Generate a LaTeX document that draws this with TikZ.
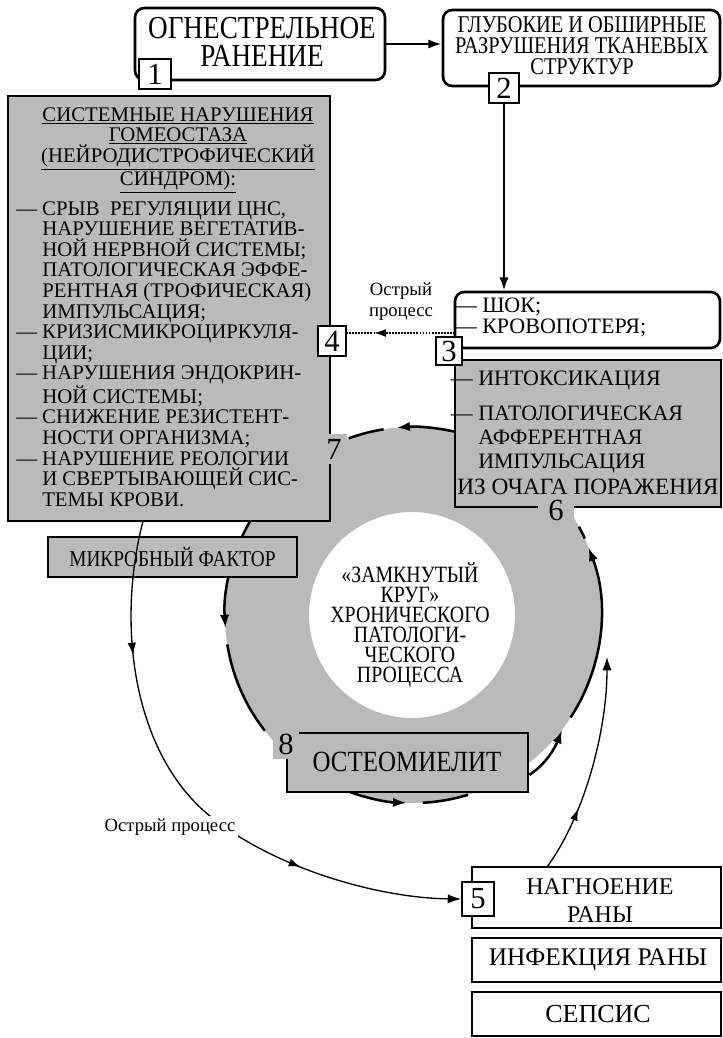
\documentclass[tikz,border=0pt]{standalone}
\usepackage{fontspec}
\setmainfont{Liberation Serif}
\newfontfamily\cond[FakeStretch=0.85]{Liberation Serif}
\usetikzlibrary{fit,arrows.meta,decorations.markings,calc}
\definecolor{shadegray}{gray}{0.73}
\newcommand\fs[2]{\fontsize{#1}{#2}\selectfont}
\tikzset{
  box/.style={draw, line width=2pt, inner sep=0pt},
  rbox/.style={box, rounded corners=7pt},
  gbox/.style={box, fill=shadegray},
  num/.style={draw, line width=1.4pt, fill=white, inner sep=0pt, font=\fs{23}{23}},
  gnum/.style={fill=shadegray, inner sep=0pt, font=\fs{23}{23}},
  txt/.style={inner sep=0pt, align=center},
  ltxt/.style={inner sep=0pt, align=left},
  tip/.style={-{Latex[length=10pt,width=7pt]}},
  ring/.style={line width=1.9pt},
  thinarc/.style={line width=1pt},
  midtip/.style={postaction={decorate}, decoration={markings, mark=at position #1 with {\arrow{Latex[length=9pt,width=6pt]}}}}
}
\begin{document}
\begin{tikzpicture}[x=0.75pt,y=-0.75pt]
\useasboundingbox (0,0) rectangle (723,1038);
% ring
\coordinate (C) at (413,615);
\coordinate (Ci) at (412,615);
\fill[shadegray, even odd rule] (C) circle[radius=188] (Ci) circle[radius=103];

% ring connectors
\coordinate (T0) at ($(C)+(-77:188)$);
\coordinate (T1) at ($(C)+(-99:188)$);
\draw[ring, tip] (T0) arc[start angle=-77, end angle=-95, radius=188];
\draw[ring] (T1) arc[start angle=-99, end angle=-110, radius=188];

\coordinate (L0) at ($(C)+(210:188)$);
\coordinate (L1) at ($(C)+(171:188)$);
\draw[ring, tip] (L0) arc[start angle=210, end angle=176, radius=188];
\draw[ring] (L1) arc[start angle=171, end angle=142, radius=188];

\coordinate (B0) at ($(C)+(109.6:188)$);
\coordinate (B1) at ($(C)+(87:188)$);
\draw[ring, tip] (B0) arc[start angle=109.6, end angle=92, radius=188];
\draw[ring] (B1) arc[start angle=87, end angle=73, radius=188];

\coordinate (R0) at ($(C)+(33:188)$);
\coordinate (R1) at ($(C)+(-24:188)$);
\draw[ring, tip] (R0) arc[start angle=33, end angle=-21, radius=188];
\draw[ring] (R1) arc[start angle=-24, end angle=-28, radius=188];

% boxes
\node[rbox, fit={(135,8)(385,80)}] (b1) {};
\node[rbox, fit={(443,10)(720,86)}] (b2) {};
\node[rbox, fit={(455,292)(720,348)}] (b3) {};
\node[gbox, fit={(455,360)(721,507)}] (b6) {};
\node[gbox, fit={(8,96)(330,521)}] (b4) {};
\node[gbox, fit={(48,537)(297,577)}] (mic) {};
\node[gbox, fit={(287,733)(528,792)}] (b8) {};
\node[box, fit={(472,867)(721,928)}] (b5) {};
\node[box, fit={(472,938)(721,982)}] (bi) {};
\node[box, fit={(472,992)(721,1036)}] (bs) {};

% osteomyelitis exit arrow
\coordinate (O0) at ($(b8.south east)!0.3!(b8.north east)$);
\coordinate (O1) at (562,730);
\draw[ring, tip] (O0) .. controls (545,765) and (555,748) .. (O1);

% number labels
\node[num, minimum width=24pt, minimum height=22.5pt] (n1) at (155,74) {1};
\node[num, minimum width=22.5pt, minimum height=22.5pt] (n2) at (504,88) {2};
\node[num, minimum width=19pt, minimum height=21pt] (n3) at (449,351) {3};
\node[num, minimum width=21pt, minimum height=23pt] (n4) at (332,341) {4};
\node[num, minimum width=24pt, minimum height=25.5pt] (n5) at (478,899) {5};
\node[gnum, minimum width=27pt, minimum height=19pt] (n6) at (556,510) {6};
\node[gnum, minimum width=20pt, minimum height=22pt] (n7) at (334,449) {7};
\node[gnum, minimum width=20pt, minimum height=22pt] (n8) at (286,744) {8};

% main connectors
\draw[ring, tip] (b1.east) -- (b1.east -| b2.west);
\draw[ring, tip] (n2.south) -- (n2.south |- b3.north);
\coordinate (D0) at (455,333);
\draw[line width=1.3pt, densely dotted, midtip=0.75] (D0) -- (D0 -| n4.east);

% thin arcs
\coordinate (A0) at (143,521);
\coordinate (A1) at (215,820);
\draw[thinarc, tip, midtip=0.23, postaction={decorate, decoration={markings, mark=at position 0.72 with {\arrow{Latex[length=9pt,width=6pt]}}}}]
  (A0) .. controls (115,630) and (135,760) .. (A1) .. controls (280,870) and (380,898) .. (n5.west);
\coordinate (S0) at (547,867);
\coordinate (S1) at (607,657);
\draw[thinarc, tip, midtip=0.3] (S0) .. controls (585,815) and (607,730) .. (S1);

% texts
\node[txt, font=\cond\fs{24}{21}] (t1) at (262,42) {ОГНЕСТРЕЛЬНОЕ\\РАНЕНИЕ};
\node[txt, font=\cond\fs{18}{15.75}] (t2) at (582,46) {ГЛУБОКИЕ И ОБШИРНЫЕ\\РАЗРУШЕНИЯ ТКАНЕВЫХ\\СТРУКТУР};
\node[ltxt, font=\fs{16.5}{15.75}, anchor=north west] (t3) at (482,298) {\llap{— }ШОК;\\\llap{— }КРОВОПОТЕРЯ;};
\node[ltxt, font=\fs{16.5}{18}, anchor=north west] (t6a) at (478,371) {\llap{— }ИНТОКСИКАЦИЯ};
\node[ltxt, font=\fs{16.5}{18}, anchor=north west] (t6b) at (478,406) {\llap{— }ПАТОЛОГИЧЕСКАЯ\\АФФЕРЕНТНАЯ\\ИМПУЛЬСАЦИЯ};
\node[ltxt, font=\fs{17.5}{18}, anchor=base west] (t6c) at (457,494) {ИЗ ОЧАГА ПОРАЖЕНИЯ};
\node[txt, font=\fs{15.6}{15}, anchor=north] (t4a) at (178,107) {\underline{СИСТЕМНЫЕ НАРУШЕНИЯ}\\\underline{ГОМЕОСТАЗА}\\\underline{(НЕЙРОДИСТРОФИЧЕСКИЙ}\\\underline{СИНДРОМ):}};
\node[ltxt, font=\fs{15.6}{15.45}, anchor=north west] (t4b) at (42,201) {\llap{— }СРЫВ\ \ РЕГУЛЯЦИИ ЦНС,\\НАРУШЕНИЕ ВЕГЕТАТИВ-\\НОЙ НЕРВНОЙ СИСТЕМЫ;\\ПАТОЛОГИЧЕСКАЯ ЭФФЕ-\\РЕНТНАЯ (ТРОФИЧЕСКАЯ)\\ИМПУЛЬСАЦИЯ;\\\llap{— }КРИЗИСМИКРОЦИРКУЛЯ-\\ЦИИ;\\\llap{— }НАРУШЕНИЯ ЭНДОКРИН-\\НОЙ СИСТЕМЫ;\\\llap{— }СНИЖЕНИЕ РЕЗИСТЕНТ-\\НОСТИ ОРГАНИЗМА;\\\llap{— }НАРУШЕНИЕ РЕОЛОГИИ\\И СВЕРТЫВАЮЩЕЙ СИС-\\ТЕМЫ КРОВИ.};
\node[txt, font=\fs{14}{15.75}] (q1) at (401,302) {Острый\\процесс};
\node[txt, font=\fs{14}{14}, fill=white, inner sep=2pt] (q2) at (170,827) {Острый процесс};
\node[txt, font=\cond\fs{17.5}{15}] (tc) at (410,625) {«ЗАМКНУТЫЙ\\КРУГ»\\ХРОНИЧЕСКОГО\\ПАТОЛОГИ-\\ЧЕСКОГО\\ПРОЦЕССА};
\node[txt, font=\cond\fs{17}{17}] (tm) at (mic.center) {МИКРОБНЫЙ ФАКТОР};
\node[txt, font=\cond\fs{22}{22}] (t8) at (407,762) {ОСТЕОМИЕЛИТ};
\node[txt, font=\fs{18}{21}] (t5) at (600,901) {НАГНОЕНИЕ\\РАНЫ};
\node[txt, font=\fs{19}{19}] (ti) at (598,960) {ИНФЕКЦИЯ РАНЫ};
\node[txt, font=\fs{19.5}{19.5}] (ts) at (598,1014) {СЕПСИС};
\end{tikzpicture}
\end{document}
